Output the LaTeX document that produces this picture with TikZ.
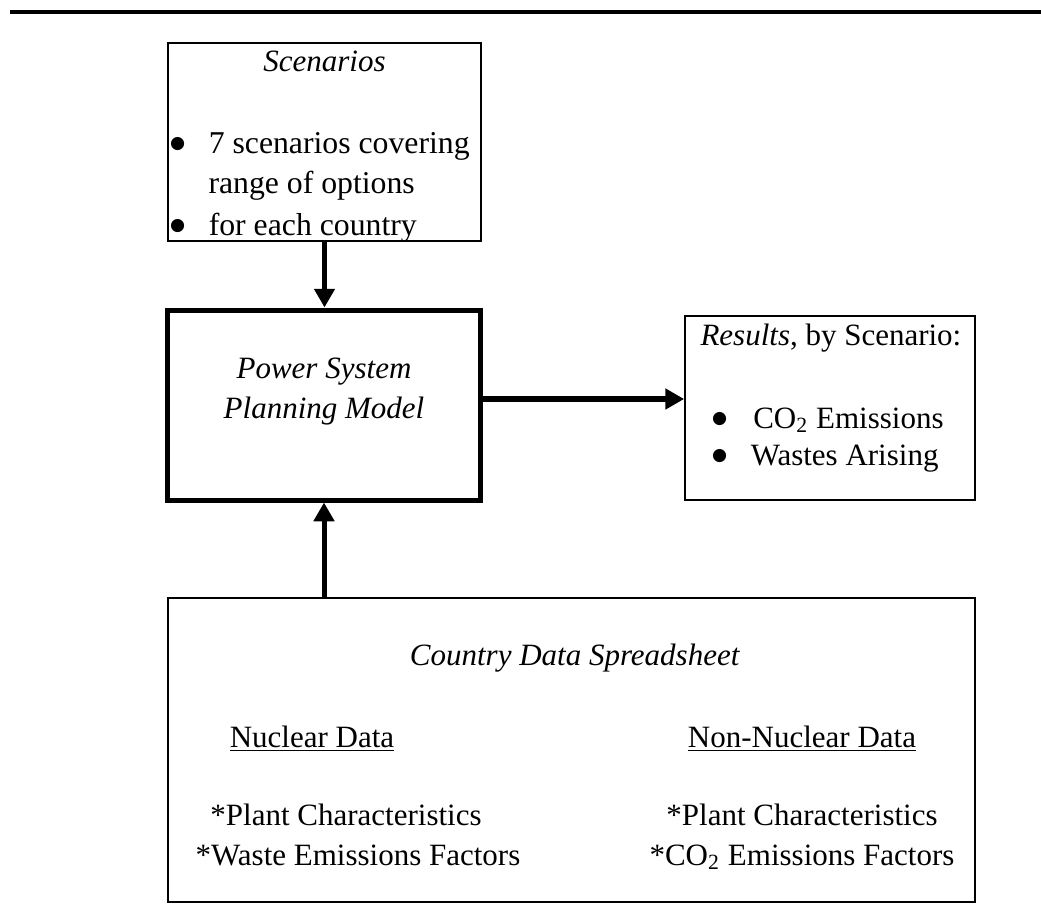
\documentclass[tikz,border=0pt]{standalone}
\usepackage{fontspec}
\setmainfont{Liberation Serif}
\newfontfamily\dotfont{DejaVu Sans}
\usetikzlibrary{arrows.meta}
\newcommand{\bigdot}{\makebox[15.5pt][l]{\raisebox{1.9pt}{\fontsize{6.9}{7}\dotfont ●}}}
\tikzset{
  box/.style={draw,line width=0.7pt,inner sep=0pt},
  modelbox/.style={draw,line width=2pt,inner sep=0pt},
  flow/.style={line width=2pt,-{Triangle[length=7.5pt,width=8pt]}},
  txt/.style={anchor=base,inner sep=0pt},
  item/.style={anchor=base west,inner sep=0pt}
}
\begin{document}
\begin{tikzpicture}[x=0.4pt,y=-0.4pt,font=\fontsize{12.4}{14.5}\selectfont]
  \useasboundingbox (0,0) rectangle (1041,913);
  \draw[line width=1.6pt] (10,12) -- (1041,12);

  % scenarios
  \node[box,minimum width=125.2pt,minimum height=79.2pt] (scen) at (324.5,142) {};
  \node[txt] (scenhead) at (324.5,72) {\textit{Scenarios}};
  \node[item,font=\fontsize{12.7}{14.5}\selectfont] (s1) at (169.5,153) {\bigdot 7 scenarios covering};
  \node[item,font=\fontsize{12.7}{14.5}\selectfont] (s2) at (208,193) {range of options};
  \node[item,font=\fontsize{12.7}{14.5}\selectfont] (s3) at (169.5,235) {\bigdot for each country};

  % model
  \node[modelbox,minimum width=124.8pt,minimum height=76pt] (psp) at (324,405) {};
  \node[txt] (psp1) at (324,378) {\textit{Power System}};
  \node[txt] (psp2) at (324,418) {\textit{Planning Model}};

  % results
  \node[box,minimum width=116pt,minimum height=73.6pt] (res) at (830,408) {};
  \node[item] (reshead) at (700,345) {\textit{Results}, by Scenario:};
  \node[item] (r1) at (711.5,428) {\bigdot\hspace{1pt}CO\textsubscript{2} Emissions};
  \node[item] (r2) at (711.5,465) {\bigdot Wastes Arising};

  % country data
  \node[box,minimum width=322.8pt,minimum height=121.6pt] (cds) at (571.5,750) {};
  \node[txt] (cdshead) at (575,665) {\textit{Country Data Spreadsheet}};
  \node[txt] (nuc) at (312,747) {\underline{Nuclear Data}};
  \node[txt] (nonnuc) at (802,747) {\underline{Non-Nuclear Data}};
  \node[txt] (nuc1) at (346,825) {*Plant Characteristics};
  \node[txt] (nuc2) at (358,865) {*Waste Emissions Factors};
  \node[txt] (non1) at (802,825) {*Plant Characteristics};
  \node[txt] (non2) at (802,865) {*CO\textsubscript{2} Emissions Factors};

  \draw[flow] (scen.south) -- (scen.south |- psp.north);
  \draw[flow,line width=2.6pt] ([yshift=2.4pt]psp.east) -- ([yshift=2.4pt]psp.east -| res.west);
  \draw[flow] (cds.north -| psp.south) -- (psp.south);
\end{tikzpicture}
\end{document}
